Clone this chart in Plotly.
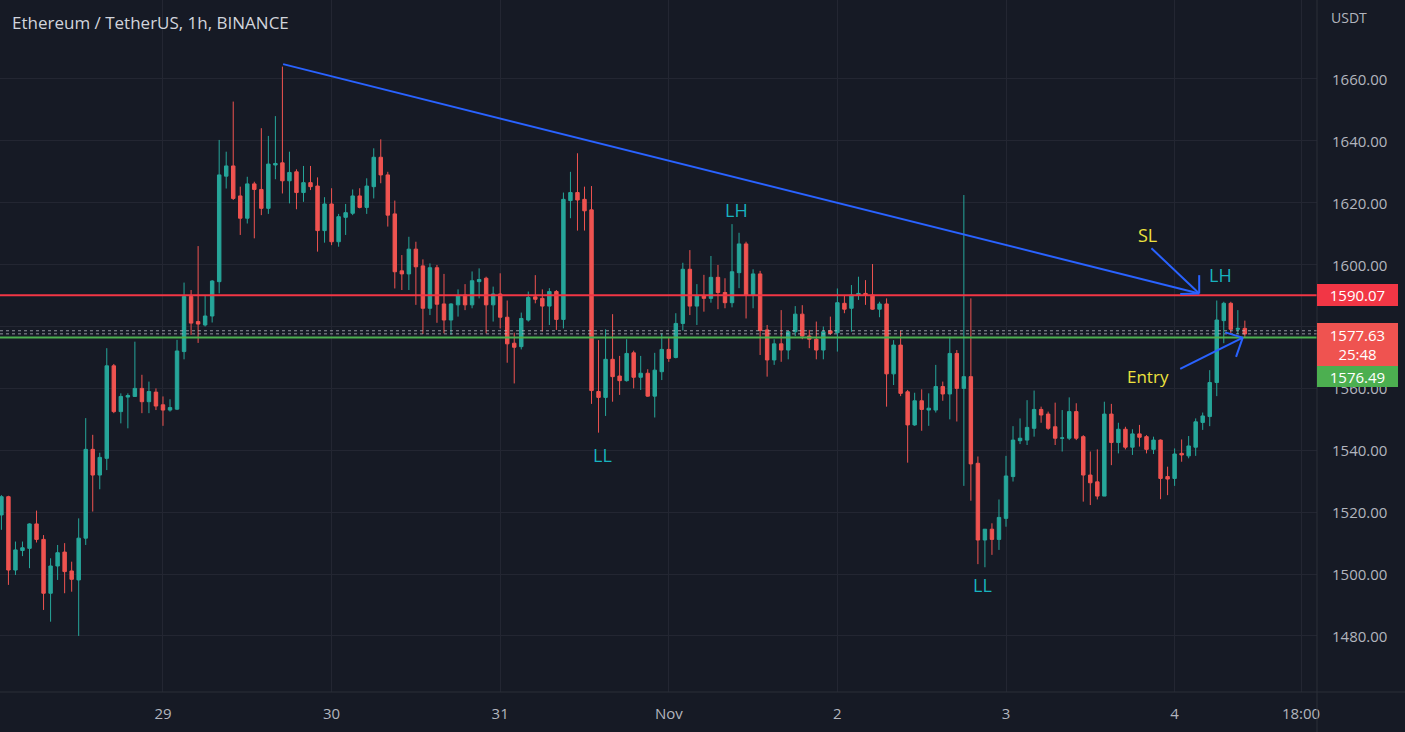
import pandas as pd
import plotly.graph_objects as go

# ---------------- data (ETH/USDT 1h, BINANCE) ----------------
first_bar = "2022-10-28 01:00"
day0 = "2022-10-29 00:00"

open_ = [1519.1, 1525.0, 1501.3, 1507.6, 1508.3, 1516.2, 1511.2, 1493.8, 1502.6, 1507.1,
         1501.0, 1498.1, 1511.6, 1540.3, 1532.0, 1537.4, 1567.3, 1552.5, 1557.2, 1557.4,
         1560.0, 1555.7, 1558.8, 1554.7, 1553.0, 1553.3, 1571.9, 1589.7, 1581.6, 1580.5,
         1583.4, 1594.5, 1628.6, 1631.9, 1622.2, 1615.0, 1626.1, 1624.3, 1618.2, 1632.2,
         1632.9, 1627.1, 1630.0, 1623.3, 1626.5, 1625.4, 1611.0, 1619.6, 1607.4, 1615.3,
         1616.6, 1622.2, 1618.5, 1625.2, 1634.7, 1629.0, 1616.4, 1598.0, 1597.0, 1605.0,
         1599.6, 1585.9, 1599.0, 1587.3, 1582.1, 1587.0, 1590.2, 1587.0, 1594.5, 1595.6,
         1587.0, 1590.5, 1583.0, 1574.6, 1573.5, 1582.1, 1589.6, 1589.1, 1586.6, 1591.3,
         1582.3, 1620.7, 1623.3, 1621.1, 1617.7, 1559.0, 1557.1, 1569.4, 1564.0, 1562.5,
         1571.5, 1563.6, 1564.9, 1557.5, 1565.4, 1572.6, 1570.0, 1581.0, 1598.5, 1586.6,
         1589.9, 1589.1, 1595.9, 1591.0, 1587.7, 1597.4, 1606.7, 1590.2, 1597.0, 1578.9,
         1569.2, 1574.4, 1572.4, 1578.3, 1584.0, 1576.9, 1575.9, 1572.4, 1578.6, 1578.0,
         1587.5, 1585.9, 1590.2, 1590.7, 1590.2, 1585.6, 1587.3, 1564.7, 1574.0, 1558.9,
         1548.2, 1556.0, 1553.0, 1553.0, 1560.6, 1558.2, 1571.3, 1560.0, 1563.8, 1535.8,
         1511.0, 1514.5, 1511.2, 1518.0, 1531.5, 1543.1, 1543.3, 1547.1, 1553.2, 1551.7,
         1547.6, 1543.9, 1543.9, 1552.5, 1544.4, 1532.0, 1529.8, 1525.2, 1551.7, 1542.5,
         1546.8, 1541.0, 1545.3, 1544.4, 1540.3, 1543.3, 1531.5, 1530.9, 1539.0, 1538.2,
         1541.0, 1549.0, 1550.9, 1561.9, 1581.9, 1587.5, 1579.1, 1579.4]

high = [1525.5, 1525.3, 1510.5, 1510.5, 1516.4, 1520.5, 1512.6, 1505.1, 1509.4, 1510.0,
        1504.0, 1518.0, 1550.4, 1545.0, 1539.2, 1573.0, 1567.9, 1558.4, 1558.4, 1575.1,
        1564.4, 1562.2, 1560.0, 1557.4, 1556.5, 1575.7, 1594.2, 1591.8, 1606.0, 1589.9,
        1595.0, 1640.3, 1636.5, 1652.7, 1625.2, 1628.4, 1626.8, 1644.1, 1641.6, 1648.0,
        1664.0, 1636.5, 1630.8, 1631.9, 1631.9, 1628.2, 1621.8, 1624.7, 1616.4, 1619.6,
        1624.3, 1624.7, 1627.9, 1637.6, 1640.5, 1630.0, 1620.7, 1603.1, 1609.0, 1607.4,
        1601.7, 1600.4, 1599.9, 1597.0, 1587.5, 1592.0, 1593.7, 1597.8, 1598.8, 1596.1,
        1592.9, 1597.2, 1588.4, 1578.0, 1584.5, 1591.3, 1596.6, 1592.0, 1592.4, 1591.8,
        1623.3, 1630.0, 1636.0, 1625.2, 1625.4, 1575.6, 1579.1, 1584.0, 1570.5, 1575.9,
        1572.2, 1570.5, 1566.2, 1571.5, 1577.8, 1576.5, 1584.3, 1600.6, 1604.7, 1593.7,
        1596.7, 1602.8, 1599.9, 1595.6, 1613.1, 1610.3, 1607.4, 1598.5, 1598.0, 1580.5,
        1575.9, 1585.3, 1578.6, 1586.6, 1586.9, 1578.9, 1581.6, 1580.0, 1583.2, 1592.3,
        1590.2, 1593.4, 1596.1, 1595.0, 1600.2, 1588.0, 1589.1, 1575.6, 1578.7, 1559.5,
        1558.6, 1559.7, 1558.4, 1567.6, 1562.2, 1576.7, 1572.4, 1622.5, 1589.1, 1538.0,
        1514.5, 1516.4, 1524.1, 1538.2, 1547.8, 1550.3, 1556.2, 1559.3, 1554.1, 1552.5,
        1555.4, 1553.0, 1557.1, 1555.2, 1544.9, 1539.6, 1540.3, 1555.7, 1555.0, 1548.9,
        1547.6, 1546.8, 1548.2, 1544.9, 1544.4, 1543.5, 1534.7, 1540.6, 1543.5, 1544.6,
        1550.3, 1552.2, 1565.9, 1588.4, 1588.0, 1588.0, 1585.3, 1581.9]

low = [1514.3, 1496.5, 1499.7, 1505.8, 1501.9, 1510.2, 1488.4, 1484.6, 1498.1, 1493.8,
       1494.3, 1480.0, 1509.4, 1520.2, 1527.4, 1533.6, 1552.0, 1548.7, 1547.1, 1557.3,
       1552.0, 1552.0, 1553.0, 1547.9, 1552.5, 1553.0, 1569.4, 1577.3, 1574.7, 1580.0,
       1581.3, 1590.7, 1624.6, 1620.9, 1609.6, 1613.3, 1608.5, 1616.0, 1616.4, 1627.6,
       1623.0, 1619.8, 1617.9, 1620.3, 1624.1, 1604.2, 1607.1, 1606.3, 1605.8, 1609.6,
       1616.0, 1618.2, 1616.4, 1621.4, 1626.3, 1612.3, 1592.3, 1591.8, 1591.8, 1587.0,
       1577.6, 1583.7, 1581.2, 1577.8, 1577.3, 1583.2, 1585.3, 1585.9, 1589.1, 1577.8,
       1581.6, 1579.4, 1568.3, 1561.6, 1572.6, 1581.6, 1587.5, 1578.4, 1580.5, 1578.9,
       1579.4, 1615.0, 1611.0, 1611.0, 1555.0, 1545.7, 1551.1, 1555.7, 1557.9, 1562.2,
       1560.0, 1559.5, 1557.3, 1550.6, 1562.7, 1568.6, 1569.7, 1578.7, 1583.7, 1580.5,
       1584.8, 1587.7, 1585.6, 1585.9, 1586.2, 1592.4, 1582.6, 1585.9, 1570.8, 1563.8,
       1567.6, 1568.6, 1569.4, 1576.9, 1575.9, 1573.0, 1569.4, 1569.4, 1577.3, 1571.9,
       1584.3, 1578.3, 1588.6, 1587.0, 1585.4, 1583.0, 1554.1, 1561.1, 1557.5, 1536.0,
       1547.9, 1546.3, 1547.9, 1552.2, 1556.0, 1550.0, 1549.3, 1528.5, 1523.7, 1503.2,
       1502.2, 1506.2, 1507.8, 1515.3, 1529.9, 1542.0, 1541.7, 1544.4, 1548.9, 1546.6,
       1541.7, 1539.6, 1543.3, 1543.3, 1523.4, 1522.3, 1524.1, 1525.2, 1535.2, 1539.0,
       1540.3, 1538.5, 1541.2, 1539.0, 1538.8, 1524.2, 1525.5, 1528.5, 1536.3, 1537.4,
       1538.2, 1546.6, 1547.8, 1557.5, 1574.6, 1577.8, 1577.6, 1576.5]

close = [1525.0, 1501.3, 1507.8, 1508.5, 1516.2, 1511.2, 1493.8, 1502.6, 1506.9, 1500.8,
         1498.3, 1511.6, 1540.3, 1532.0, 1537.7, 1567.3, 1552.5, 1557.4, 1557.7, 1560.0,
         1555.7, 1559.0, 1554.3, 1553.0, 1553.8, 1572.1, 1589.7, 1581.1, 1580.8, 1583.4,
         1594.7, 1629.0, 1631.9, 1621.4, 1615.0, 1626.1, 1624.3, 1618.2, 1632.5, 1632.7,
         1627.1, 1629.8, 1623.3, 1626.5, 1625.2, 1611.0, 1619.6, 1607.4, 1615.5, 1616.8,
         1622.2, 1618.5, 1625.4, 1634.7, 1629.0, 1616.0, 1597.7, 1597.0, 1605.0, 1599.3,
         1585.9, 1599.0, 1587.2, 1582.1, 1587.3, 1589.9, 1587.0, 1594.8, 1595.2, 1587.0,
         1590.5, 1583.0, 1574.4, 1573.3, 1582.6, 1589.4, 1588.8, 1586.6, 1591.3, 1582.3,
         1621.1, 1623.3, 1620.9, 1617.4, 1559.3, 1557.1, 1569.4, 1563.8, 1562.5, 1571.3,
         1563.6, 1564.9, 1557.5, 1565.9, 1572.6, 1569.7, 1581.0, 1598.5, 1586.6, 1589.9,
         1589.1, 1595.9, 1591.0, 1587.7, 1597.7, 1606.7, 1590.2, 1597.0, 1578.7, 1569.2,
         1574.4, 1572.4, 1578.3, 1584.0, 1576.9, 1575.9, 1572.4, 1578.3, 1577.8, 1587.7,
         1585.6, 1590.2, 1590.7, 1590.2, 1585.6, 1587.3, 1564.7, 1574.0, 1558.4, 1548.2,
         1556.0, 1553.2, 1553.6, 1560.6, 1558.2, 1571.3, 1560.0, 1563.8, 1535.6, 1511.0,
         1514.5, 1511.2, 1518.3, 1531.7, 1543.3, 1543.9, 1547.4, 1553.2, 1551.4, 1547.1,
         1543.9, 1544.0, 1552.5, 1543.9, 1532.0, 1529.5, 1525.2, 1551.7, 1542.5, 1546.8,
         1541.0, 1545.3, 1544.2, 1540.3, 1543.3, 1530.9, 1530.7, 1538.8, 1538.5, 1541.4,
         1549.2, 1551.1, 1561.9, 1582.1, 1587.5, 1579.1, 1579.4, 1577.6]

x_tick_hours = [0, 24, 48, 72, 96, 120, 144, 162]
x_tick_labels = ["29", "30", "31", "Nov", "2", "3", "4", "18:00"]
y_tick_values = [1480, 1500, 1520, 1540, 1560, 1580, 1600, 1620, 1640, 1660]

sl_level = 1590.07
entry_level = 1576.49
last_price = 1577.63
countdown = "25:48"

# drawings (hour offset from Oct 29 00:00, price)
trend_line = [(17.1, 1664.8), (147.5, 1590.7)]
sl_arrow = [(140.7, 1605.3), (147.5, 1590.7)]
sl_head = [(147.5, 1596.6), (144.8, 1590.5)]
entry_arrow = [(144.8, 1566.3), (153.7, 1576.4)]
entry_head = [(151.2, 1578.1), (152.75, 1570.2)]
LABEL_TEAL = "#18b2bf"
LABEL_YELLOW = "#eee23e"
text_labels = [("LH", 81.7, 1617.7, LABEL_TEAL, 18),
               ("LL", 62.5, 1538.5, LABEL_TEAL, 18),
               ("LL", 116.6, 1496.5, LABEL_TEAL, 18),
               ("LH", 150.6, 1596.7, LABEL_TEAL, 18),
               ("SL", 140.2, 1609.6, LABEL_YELLOW, 18),
               ("Entry", 140.2, 1564.0, LABEL_YELLOW, 17)]

x_range_hours = (-23.2, 164.27)
y_range = (1461.88, 1685.53)

# ---------------- figure ----------------
T0 = pd.Timestamp(day0)


def t(h):
    return T0 + pd.Timedelta(hours=h)


times = [pd.Timestamp(first_bar) + pd.Timedelta(hours=i) for i in range(len(open_))]

BG = "#161a25"
GRID = "#232632"
UP = "#26a69a"
DOWN = "#ef5350"
BLUE = "#2962ff"
FONT = "Open Sans"
AXIS_TXT = "#b2b5be"

fig = go.Figure()
fig.add_trace(go.Candlestick(
    x=times, open=open_, high=high, low=low, close=close,
    increasing=dict(line=dict(color=UP, width=1), fillcolor=UP),
    decreasing=dict(line=dict(color=DOWN, width=1), fillcolor=DOWN),
    whiskerwidth=0, showlegend=False, hoverinfo="skip",
))

shapes = []
# horizontal levels
shapes.append(dict(type="line", xref="paper", x0=0, x1=1, yref="y", y0=sl_level, y1=sl_level,
                   line=dict(color="#f23645", width=2), layer="above"))
shapes.append(dict(type="line", xref="paper", x0=0, x1=1, yref="y", y0=entry_level, y1=entry_level,
                   line=dict(color="#4caf50", width=2), layer="above"))
for dy in (0.0, 1.0):
    shapes.append(dict(type="line", xref="paper", x0=0, x1=1, yref="y",
                       y0=last_price + dy, y1=last_price + dy,
                       line=dict(color="rgba(190,193,200,0.75)", width=1, dash="dot"), layer="above"))


def seg(p0, p1, w=2):
    return dict(type="line", xref="x", yref="y", x0=t(p0[0]), y0=p0[1], x1=t(p1[0]), y1=p1[1],
                line=dict(color=BLUE, width=w), layer="above")


shapes.append(seg(*trend_line))
shapes.append(seg(*sl_arrow))
tip = sl_arrow[1]
for hp in sl_head:
    shapes.append(seg(tip, hp))
shapes.append(seg(*entry_arrow))
tip = entry_arrow[1]
for hp in entry_head:
    shapes.append(seg(tip, hp))

# frame lines (axis separators)
shapes.append(dict(type="line", xref="paper", yref="paper", x0=1, x1=1, y0=-0.06, y1=1,
                   line=dict(color="#2a2e39", width=1), layer="above"))
shapes.append(dict(type="line", xref="paper", yref="paper", x0=0, x1=1.07, y0=0, y1=0,
                   line=dict(color="#2a2e39", width=1), layer="above"))

annotations = []
# price-scale labels (drawn first so the price boxes sit on top of them)
for v in y_tick_values:
    annotations.append(dict(x=1, xref="paper", xanchor="left", xshift=13, y=v, yref="y",
                            yanchor="middle", text=f"{v:.2f}", showarrow=False,
                            font=dict(family=FONT, size=15, color=AXIS_TXT)))

for txt, h, p, col, sz in text_labels:
    annotations.append(dict(x=t(h), y=p, xref="x", yref="y", text=txt, showarrow=False,
                            font=dict(family=FONT, size=sz, color=col), xanchor="center", yanchor="middle"))

annotations.append(dict(x=0.0075, y=0.967, xref="paper", yref="paper", xanchor="left", yanchor="middle",
                        text="Ethereum / TetherUS, 1h, BINANCE", showarrow=False,
                        font=dict(family=FONT, size=17, color="#d1d4dc")))
annotations.append(dict(x=1, y=0.974, xref="paper", yref="paper", xanchor="left", yanchor="middle",
                        xshift=12, text="USDT", showarrow=False,
                        font=dict(family=FONT, size=14, color=AXIS_TXT)))


def price_box(y, text, color, height, fcolor="#ffffff"):
    return dict(x=1, xref="paper", xanchor="left", y=y, yref="y", yanchor="middle",
                text=text, showarrow=False, bgcolor=color, bordercolor=color, borderwidth=1,
                borderpad=1, width=77, height=height, align="center",
                font=dict(family=FONT, size=15, color=fcolor))


annotations.append(price_box(sl_level, f"{sl_level:.2f}", "#f23645", 18))
annotations.append(price_box(1574.2, f"{last_price:.2f}<br>{countdown}", "#ef5350", 39))
annotations.append(price_box(1563.85, f"{entry_level:.2f}", "#4caf50", 17))

fig.update_layout(
    width=1405, height=732,
    margin=dict(l=0, r=88, t=0, b=40),
    paper_bgcolor=BG, plot_bgcolor=BG,
    shapes=shapes, annotations=annotations,
    showlegend=False,
    xaxis=dict(
        type="date", range=[t(x_range_hours[0]), t(x_range_hours[1])],
        rangeslider=dict(visible=False),
        tickvals=[t(h) for h in x_tick_hours], ticktext=x_tick_labels,
        showgrid=True, gridcolor=GRID, gridwidth=1, zeroline=False,
        showline=False, ticks="", ticklabelstandoff=11,
        tickfont=dict(family=FONT, size=15, color=AXIS_TXT),
    ),
    yaxis=dict(
        side="right", range=list(y_range),
        tickvals=y_tick_values, showticklabels=False,
        showgrid=True, gridcolor=GRID, gridwidth=1, zeroline=False,
        showline=False, ticks="",
    ),
    font=dict(family=FONT),
)

fig.write_html("out.html")
